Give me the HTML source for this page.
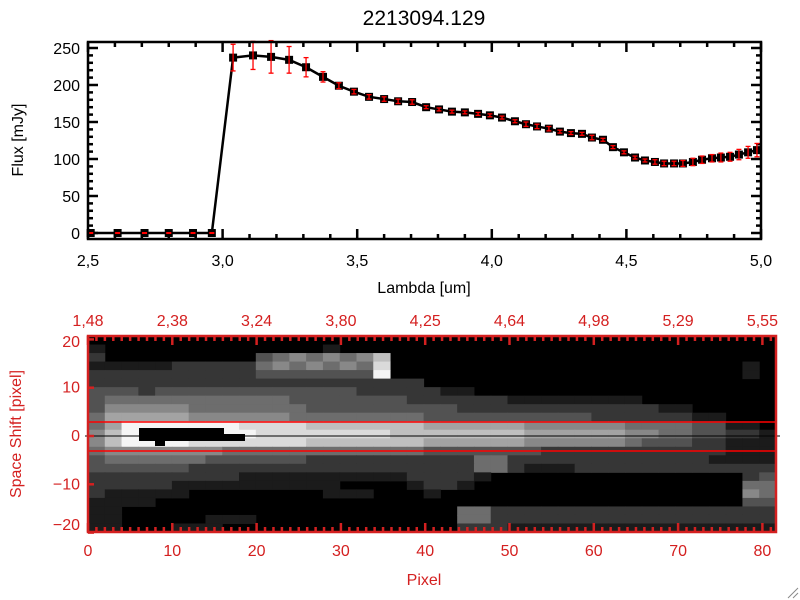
<!DOCTYPE html>
<html><head><meta charset="utf-8"><style>
html,body{margin:0;padding:0;background:#fff;}
svg{display:block;font-family:"Liberation Sans",sans-serif;}
</style></head><body>
<svg id="fig" width="800" height="600" viewBox="0 0 800 600" xmlns="http://www.w3.org/2000/svg">
<rect x="0" y="0" width="800" height="600" fill="#fff"/>
<text x="424" y="25" font-size="21" text-anchor="middle" fill="#000">2213094.129</text>
<g id="topg"></g>
<g id="botg"></g>
<text x="424" y="293" font-size="16" text-anchor="middle">Lambda [um]</text>
<text x="23" y="140" font-size="16" text-anchor="middle" transform="rotate(-90 23 140)">Flux [mJy]</text>
<text x="424" y="585" font-size="16" text-anchor="middle" fill="#d42020">Pixel</text>
<text x="21" y="434" font-size="16" text-anchor="middle" fill="#d42020" transform="rotate(-90 21 434)">Space Shift [pixel]</text>
<g stroke="#888" stroke-width="1"><line x1="788" y1="598" x2="798" y2="588"/><line x1="793" y1="598" x2="798" y2="593"/></g>
</svg>
<script>
// ---- spectrum data ----
const lambda = [2.51,2.61,2.71,2.80,2.89,2.96,
 3.039,3.113,3.180,3.247,3.310,3.373,3.432,3.488,3.544,3.600,3.652,3.704,3.756,3.804,3.852,3.900,3.949,3.993,4.038,4.086,4.127,4.168,4.212,4.253,4.294,4.335,4.372,4.413,4.450,4.491,4.532,4.569,4.606,4.640,4.677,4.710,4.747,4.781,4.818,4.851,4.885,4.918,4.952,4.985];
const flux = [0,0,0,0,0,0,
 237,240,238,234,224,211,199,191,184,181,178,177,170,167,164,163,161,159,156,151,147,144,141,137,135,134,129,126,116,109,102,98,96,94,94,94,96,99,101,102,103,106,109,112];
const fluxErr = [0.5,0.5,0.5,0.5,0.5,0.5,
 18,19,22,18,13,7,4,3,3,3,3,3,2,2,2,2,2,2,2,2,3,3,3,2,2,2,3,2,2,2,2,2,3,3,3,4,5,5,5,6,6,7,8,9];
const xTicks = ["2.5","3.0","3.5","4.0","4.5","5.0"];
const yTicks = ["0","50","100","150","200","250"];
// ---- image data ----
const pixTicks = ["0","10","20","30","40","50","60","70","80"];
const lamTicks = ["1.48","2.38","3.24","3.80","4.25","4.64","4.98","5.29","5.55"];
const shiftTicks = ["20","10","0","-10","-20"];
const imgRows = [
"00000000000000000000000000000000000000000",
"10000000000000100000000000000000000000000",
"20000000003454545700000000000000000000000",
"11111222224545454800000000000000000000010",
"22222222223333333900000000000000000000010",
"22222222222222222222000000000000000000000",
"33323333333333332222211000000000000000000",
"34444444444433333332222221111111100000000",
"35555544444443333333332222222222221100000",
"46666655555544444444333333333322222211000",
"46999999988887777777666666555555444433110",
"57999999998888888877777777666666554433221",
"57999988888887777777666666555555433322111",
"45555555444444444444333333322222222222111",
"34444443333332222222222442222222222221111",
"33333322222222222222222442111222222222222",
"22222222211111111112222100000000000000023",
"22222111111111100001221000000000000000044",
"21111100000000111000100000000000000000054",
"11110000000000000000000000000000000000033",
"11000000000000000000004422222222222222222",
"11000001110000000000004422222222222222222",
"11000111000000000000002221111111111111111"];

const NS='http://www.w3.org/2000/svg';
function mk(tag,attrs,parent){const e=document.createElementNS(NS,tag);for(const k in attrs)e.setAttribute(k,attrs[k]);parent.appendChild(e);return e;}

// ---- top plot ----
const T={x0:88,x1:761,y0:42,y1:239};
const xs=v=>T.x0+(v-2.5)/2.5*(T.x1-T.x0);
const ys=v=>233-v*0.74;
const topG=document.getElementById('topg');


const tk=mk('g',{stroke:'#000','stroke-width':2.5},topG);


for(let i=0;i<=25;i++){const v=2.5+i*0.1;const x=xs(v);const L=(i%5==0)?10:5;
 mk('line',{x1:x,y1:T.y1,x2:x,y2:T.y1-L},tk);mk('line',{x1:x,y1:T.y0,x2:x,y2:T.y0+L},tk);}
for(let v=0;v<=260;v+=10){const y=ys(v);if(y<T.y0)continue;const L=(v%50==0)?10:5;
 mk('line',{x1:T.x0,y1:y,x2:T.x0+L,y2:y},tk);mk('line',{x1:T.x1,y1:y,x2:T.x1-L,y2:y},tk);}
xTicks.forEach(s=>{const t=mk('text',{x:xs(parseFloat(s)),y:T.y1+27,'font-size':16,'text-anchor':'middle'},topG);t.textContent=s.replace('.',',');
 
 });
yTicks.forEach(s=>{const t=mk('text',{x:T.x0-8,y:ys(parseFloat(s))+6,'font-size':16,'text-anchor':'end'},topG);t.textContent=s;
 
 });
const pl=mk('polyline',{points:lambda.map((l,i)=>xs(l)+','+ys(flux[i])).join(' '),fill:'none',stroke:'#000','stroke-width':2.5},topG);


lambda.forEach((l,i)=>{const x=xs(l),y=ys(flux[i]);
 const r=mk('rect',{x:x-4,y:y-4,width:8,height:8,fill:'#000'},topG);
 
 
 const e=fluxErr[i]*0.74;const g=mk('g',{stroke:'#f00','stroke-width':1.3},topG);
 
 
 mk('line',{x1:x,y1:y-e,x2:x,y2:y+e},g);mk('line',{x1:x-2.5,y1:y-e,x2:x+2.5,y2:y-e},g);mk('line',{x1:x-2.5,y1:y+e,x2:x+2.5,y2:y+e},g);});
const fr=mk('rect',{x:T.x0,y:T.y0,width:T.x1-T.x0,height:T.y1-T.y0,fill:'none',stroke:'#000','stroke-width':2.5},topG);



// ---- bottom image ----
const B={x0:88,x1:776,y0:336,y1:532};
const botG=document.getElementById('botg');
const imgG=mk('g',{},botG);


mk('rect',{x:B.x0,y:B.y0,width:B.x1-B.x0,height:B.y1-B.y0,fill:'#000'},imgG);
const nr=imgRows.length,nc=imgRows[0].length;const cw=(B.x1-B.x0)/nc,ch=(B.y1-B.y0)/nr;
imgRows.forEach((row,r)=>{for(let c=0;c<nc;c++){const g=parseInt(row[c]);if(!g)continue;const v=Math.round(g/9*245);
 const cell=mk('rect',{x:B.x0+c*cw,y:B.y0+r*ch,width:cw+0.5,height:ch+0.5,fill:`rgb(${v},${v},${v})`},imgG);
 
 }});
const hole=mk('path',{d:'M139 428 H224 V434 H245 V441 H165 V446 H155 V441 H139 Z',fill:'#000'},imgG);


const px=v=>B.x0+v*8.43;const sy=v=>436-v*4.83;
const l1=mk('line',{x1:B.x0,y1:422,x2:B.x1,y2:422,stroke:'#f00','stroke-width':1.5},botG);


const l2=mk('line',{x1:B.x0,y1:451,x2:B.x1,y2:451,stroke:'#f00','stroke-width':1.5},botG);


const l3=mk('line',{x1:B.x0-3,y1:436,x2:B.x1+4,y2:436,stroke:'#000','stroke-width':1},botG);


const bt=mk('g',{stroke:'#d42020','stroke-width':2.5},botG);


for(let i=0;i<=81;i++){const x=px(i);const L=(i%10==0)?9:5;
 mk('line',{x1:x,y1:B.y1,x2:x,y2:B.y1-L},bt);mk('line',{x1:x,y1:B.y0,x2:x,y2:B.y0+L},bt);}
shiftTicks.forEach(s=>{const y=sy(parseFloat(s));mk('line',{x1:B.x0,y1:y,x2:B.x0+6,y2:y},bt);});
pixTicks.forEach((s,i)=>{const t=mk('text',{x:px(parseFloat(s)),y:B.y1+24,'font-size':16,'text-anchor':'middle',fill:'#d42020'},botG);t.textContent=s;
 
 
 const u=mk('text',{x:px(parseFloat(s)),y:B.y0-10,'font-size':16,'text-anchor':'middle',fill:'#d42020'},botG);u.textContent=lamTicks[i].replace('.',',');
 
 });
shiftTicks.forEach(s=>{let y=sy(parseFloat(s))+5;y=Math.min(Math.max(y,347),530);
 const t=mk('text',{x:B.x0-8,y:y,'font-size':16,'text-anchor':'end',fill:'#d42020'},botG);t.textContent=s.replace('-','\u2212');
 
 });
const bf=mk('rect',{x:B.x0,y:B.y0,width:B.x1-B.x0,height:B.y1-B.y0,fill:'none',stroke:'#d42020','stroke-width':2.5},botG);


</script>
</body></html>
